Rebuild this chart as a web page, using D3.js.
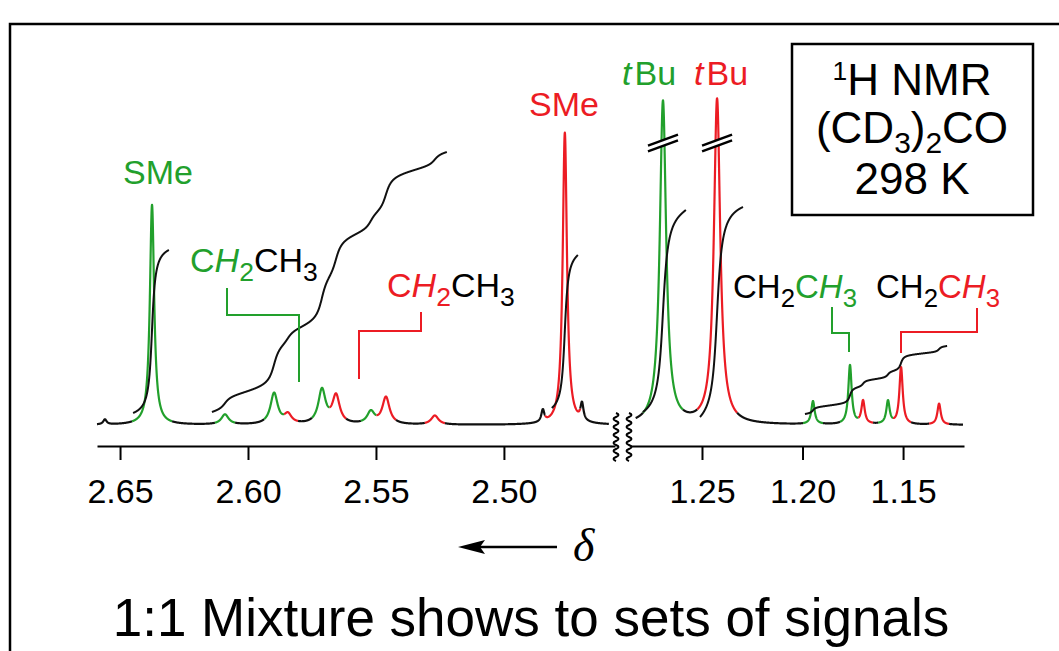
<!DOCTYPE html>
<html>
<head>
<meta charset="utf-8">
<script src="https://cdn.jsdelivr.net/npm/d3@7/dist/d3.min.js"></script>
<style>
  html, body { margin: 0; padding: 0; background: #fff; }
  svg { display: block; font-family: "Liberation Sans", Arial, Helvetica, sans-serif; }
</style>
</head>
<body>
<svg id="chart" width="1059" height="651"></svg>
<script>
// ---- Data -------------------------------------------------------------
// Peaks: [chemical shift (ppm), height (intensity units), half width at half height (ppm)]
const greenPeaks = [
  [2.6375, 220, 0.0010],   // SMe
  [2.6090, 10, 0.0017],    // CH2 quartet
  [2.5898, 31, 0.0017],
  [2.5711, 34, 0.0017],
  [2.5520, 12, 0.0017],
  [1.2694, 323, 0.0019],   // tBu
  [1.1948, 23, 0.0010],    // CH3 triplet
  [1.1764, 59, 0.0010],
  [1.1575, 23, 0.0010]
];
const redPeaks = [
  [2.5844, 9, 0.0017],     // CH2 quartet
  [2.5656, 28, 0.0017],
  [2.5461, 27, 0.0017],
  [2.5270, 9, 0.0017],
  [2.4762, 292, 0.0010],   // SMe
  [1.2425, 325, 0.0019],   // tBu
  [1.1699, 23, 0.0010],    // CH3 triplet
  [1.1510, 57, 0.0010],
  [1.1321, 21, 0.0010]
];
const otherPeaks = [
  [2.6559, 5, 0.0008],
  [2.4848, 12, 0.0007],
  [2.4695, 17, 0.0007]
];
// Integration regions: [from ppm, to ppm, start level, end level, baseline offset]
const integrals = [
  [2.6449, 2.6309, 12, 175, 0],
  [2.6141, 2.5223, 13, 273, 1.6],
  [2.4813, 2.4711, 17, 170, 0],
  [1.2794, 1.2580, 13, 215, 0],
  [1.2510, 1.2296, 8, 218, 0],
  [1.1988, 1.1281, 11, 79, 1.5]
];
const ticksLeft = [2.65, 2.60, 2.55, 2.50];
const ticksRight = [1.25, 1.20, 1.15];
const spanLeft = [2.659, 2.4590];
const spanRight = [1.2830, 1.1202];

// ---- Setup ------------------------------------------------------------
const GREEN = "#22a02c", RED = "#ec1c24", BLACK = "#111";
const svg = d3.select("#chart");
const step = 0.00005;

const xLeft = d3.scaleLinear().domain([2.659, 2.4566]).range([97, 615]);
const xRight = d3.scaleLinear().domain([1.2858, 1.1197]).range([630, 964]);
const y = d3.scaleLinear().domain([0, 330]).range([425, 95]);

const lor = (p, d) => p[1] / (1 + ((d - p[0]) / p[2]) ** 2);
const contribution = (peaks, d) => d3.sum(peaks, p => lor(p, d));
const total = d => contribution(greenPeaks, d) + contribution(redPeaks, d) + contribution(otherPeaks, d);

// outer frame
svg.append("rect").attr("x", 10).attr("y", 24).attr("width", 1200).attr("height", 800)
  .attr("fill", "none").attr("stroke", "#000").attr("stroke-width", 2.5);

// ---- Spectrum -----------------------------------------------------------
// a point is coloured by the compound whose nearby peak dominates it
function colourAt(d, x) {
  const near = peaks => d3.sum(peaks, p =>
    Math.abs(x(d) - x(p[0])) < (p[1] > 100 ? 20 : 10) ? lor(p, d) : 0);
  const g = near(greenPeaks), r = near(redPeaks), o = contribution(otherPeaks, d);
  if (g === 0 && r === 0) return BLACK;
  if (o > Math.max(g, r)) return BLACK;
  return g >= r ? GREEN : RED;
}

const specG = svg.append("g");
function drawSpectrum(span, x) {
  const pts = d3.range(span[0], span[1] - 1e-9, -step)
    .map(d => ({ d, v: total(d), c: colourAt(d, x) }));
  const runs = [];
  let cur = [pts[0]];
  for (let i = 1; i < pts.length; i++) {
    cur.push(pts[i]);
    if (pts[i].c !== cur[0].c) { runs.push(cur); cur = [pts[i]]; }
  }
  runs.push(cur);
  const line = d3.line().x(p => x(p.d)).y(p => y(p.v));
  specG.append("g").selectAll("path").data(runs).join("path")
    .attr("d", line)
    .attr("fill", "none")
    .attr("stroke", r => r[0].c)
    .attr("stroke-width", 2.2)
    .attr("stroke-linejoin", "round");
}
drawSpectrum(spanLeft, xLeft);
drawSpectrum(spanRight, xRight);

// ---- Integral curves ------------------------------------------------------
const intLine = d3.line();
integrals.forEach(([from, to, h0, h1, off]) => {
  const x = from > 2 ? xLeft : xRight;
  const ds = d3.range(from, to - 1e-9, -step);
  let acc = 0;
  const cum = ds.map(d => (acc += total(d) + off));
  const first = cum[0], last = cum[cum.length - 1];
  const pts = ds.map((d, i) => [x(d), y(h0 + (h1 - h0) * (cum[i] - first) / (last - first))]);
  svg.append("path").attr("d", intLine(pts))
    .attr("fill", "none").attr("stroke", BLACK).attr("stroke-width", 2);
});

// ---- Break marks on the truncated tBu peaks -----------------------------------
[greenPeaks[5][0], redPeaks[5][0]].forEach(d => {
  const cx = xRight(d), cy = 143;
  svg.append("path")
    .attr("d", `M${cx - 15},${cy + 3} L${cx + 15},${cy - 8} L${cx + 15},${cy - 3} L${cx - 15},${cy + 8} Z`)
    .attr("fill", "#fff");
  [-2.8, 2.8].forEach(o => {
    svg.append("line")
      .attr("x1", cx - 15).attr("y1", cy + 5.5 + o)
      .attr("x2", cx + 15).attr("y2", cy - 5.5 + o)
      .attr("stroke", "#000").attr("stroke-width", 2.5);
  });
});

// ---- Axes -----------------------------------------------------------------
function drawAxis(scale, ticks) {
  const g = svg.append("g").attr("transform", "translate(0,446)")
    .call(d3.axisBottom(scale).tickValues(ticks).tickFormat(d3.format(".2f"))
      .tickSize(14).tickSizeOuter(0).tickPadding(19));
  g.select(".domain").attr("stroke", "#000").attr("stroke-width", 2);
  g.selectAll(".tick line").attr("stroke", "#000").attr("stroke-width", 2);
  g.selectAll(".tick text").attr("font-size", 34).attr("fill", "#000")
    .attr("font-family", "'Liberation Sans', Arial, sans-serif");
}
drawAxis(xLeft, ticksLeft);
drawAxis(xRight, ticksRight);

// axis break squiggles
function squiggle(x0, y0, y1) {
  let s = `M${x0},${y0}`;
  for (let yy = y0; yy < y1; yy += 8) s += " q 5,2 0,4 q -5,2 0,4";
  return s;
}
[616, 629].forEach(x0 => {
  svg.append("path").attr("d", squiggle(x0, 413, 461))
    .attr("fill", "none").attr("stroke", "#000").attr("stroke-width", 2);
});

// ---- Labels ---------------------------------------------------------------
function richText(x, yb, size, anchor, parts, subScale = 0.78, subShift = 9) {
  const t = svg.append("text").attr("x", x).attr("y", yb)
    .attr("font-size", size).attr("text-anchor", anchor);
  let off = 0;
  parts.forEach(p => {
    const ts = t.append("tspan").text(p.t).attr("fill", p.c || "#000");
    if (p.i) ts.attr("font-style", "italic");
    let target = 0;
    if (p.sub) { ts.attr("font-size", size * subScale); target = subShift; }
    if (p.sup) { ts.attr("font-size", size * 0.6); target = -p.sup; }
    if (p.dx) ts.attr("dx", p.dx);
    if (target !== off) { ts.attr("dy", target - off); off = target; }
  });
  return t;
}

richText(158, 184, 34, "middle", [{ t: "SMe", c: GREEN }]);
richText(564, 116, 34, "middle", [{ t: "SMe", c: RED }]);
richText(622, 85, 34, "start", [{ t: "t", c: GREEN, i: true }, { t: "Bu", c: GREEN, dx: 3 }]);
richText(694, 85, 34, "start", [{ t: "t", c: RED, i: true }, { t: "Bu", c: RED, dx: 3 }]);

richText(190, 272, 34, "start", [
  { t: "C", c: GREEN }, { t: "H", c: GREEN, i: true }, { t: "2", c: GREEN, sub: true },
  { t: "CH" }, { t: "3", sub: true }]);
richText(387, 297, 34, "start", [
  { t: "C", c: RED }, { t: "H", c: RED, i: true }, { t: "2", c: RED, sub: true },
  { t: "CH" }, { t: "3", sub: true }]);
richText(733, 298, 33, "start", [
  { t: "CH" }, { t: "2", sub: true },
  { t: "C", c: GREEN }, { t: "H", c: GREEN, i: true }, { t: "3", c: GREEN, sub: true }]);
richText(876, 298, 33, "start", [
  { t: "CH" }, { t: "2", sub: true },
  { t: "C", c: RED }, { t: "H", c: RED, i: true }, { t: "3", c: RED, sub: true }]);

// assignment brackets
const brackets = [
  ["M227,288 V315 H299 V382", GREEN],
  ["M421,312 V331 H359 V379", RED],
  ["M832,307 V333 H849 V352", GREEN],
  ["M977,308 V332 H901 V353", RED]
];
brackets.forEach(([d, c]) => svg.append("path").attr("d", d)
  .attr("fill", "none").attr("stroke", c).attr("stroke-width", 2));

// ---- Conditions box -------------------------------------------------------
svg.append("rect").attr("x", 792).attr("y", 44).attr("width", 241).attr("height", 171)
  .attr("fill", "#fff").attr("stroke", "#000").attr("stroke-width", 2.5);
richText(912, 95, 44, "middle", [{ t: "1", sup: 15 }, { t: "H NMR" }]);
richText(912, 143, 44, "middle", [
  { t: "(CD" }, { t: "3", sub: true }, { t: ")" }, { t: "2", sub: true }, { t: "CO" }], 0.68, 10);
richText(912, 194, 44, "middle", [{ t: "298 K" }]);

// ---- Shift direction arrow --------------------------------------------------
svg.append("line").attr("x1", 478).attr("y1", 547).attr("x2", 557).attr("y2", 547)
  .attr("stroke", "#000").attr("stroke-width", 2.5);
svg.append("path").attr("d", "M458,547 L485,540 L480,547 L485,554 Z").attr("fill", "#000");
svg.append("text").attr("x", 573).attr("y", 561)
  .attr("font-family", "'Liberation Serif', 'Times New Roman', serif")
  .attr("font-style", "italic").attr("font-size", 46).text("δ");

// ---- Caption ----------------------------------------------------------------
svg.append("text").attr("x", 531).attr("y", 636).attr("text-anchor", "middle")
  .attr("font-size", 53).attr("fill", "#000").text("1:1 Mixture shows to sets of signals");
</script>
</body>
</html>
